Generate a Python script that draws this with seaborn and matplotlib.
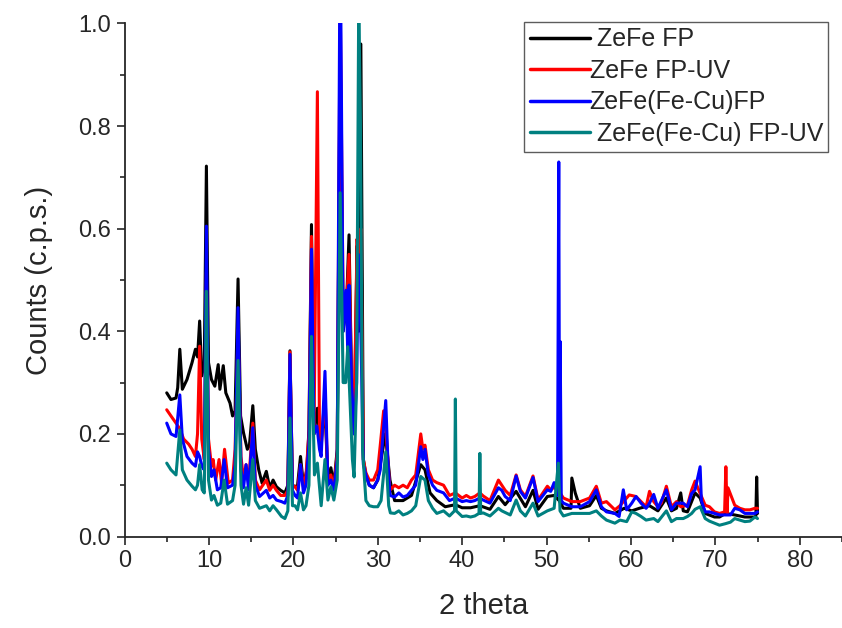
import matplotlib
matplotlib.use("Agg")
import matplotlib.pyplot as plt
import seaborn as sns
import pandas as pd
from matplotlib.ticker import MultipleLocator

# ---------------- data ----------------
labels = [" ZeFe FP", "ZeFe FP-UV", "ZeFe(Fe-Cu)FP", " ZeFe(Fe-Cu) FP-UV"]
colors = ["#000000", "#ff0000", "#0000ff", "#008080"]

black_x = [5.0, 5.5, 6.1, 6.3, 6.55, 6.85, 7.4, 8.0, 8.4, 8.65, 8.9, 9.15, 9.45, 9.7, 9.95,
           10.3, 10.7, 11.1, 11.3, 11.7, 12.0, 12.5, 12.8, 13.1, 13.45, 13.75, 14.1, 14.55,
           14.8, 15.2, 15.5, 15.9, 16.3, 16.8, 17.2, 17.6, 18.0, 18.5, 19.0, 19.35, 19.6, 19.9,
           20.2, 20.5, 20.85, 21.2, 21.6, 21.85, 22.15, 22.45, 22.85, 23.2, 23.75, 24.1, 24.45,
           24.8, 25.2, 25.55, 25.9, 26.3, 26.6, 26.9, 27.2, 27.55, 27.75, 28.0, 28.3, 28.6,
           29.0, 29.5, 30.0, 30.4, 30.9, 31.45, 32.0, 33.0, 34.0, 35.1, 35.6, 36.2, 37.0, 38.0,
           39.2, 40.0, 41.0, 42.1, 43.3, 44.3, 45.1, 46.4, 47.5, 48.4, 49.0, 50.1, 50.9, 51.5,
           52.0, 52.9, 53.0, 53.4, 54.0, 55.1, 55.9, 56.5, 57.1, 58.1, 59.2, 60.1, 61.0, 62.2,
           63.2, 64.2, 64.8, 65.4, 65.9, 66.2, 66.7, 67.6, 68.2, 68.8, 69.9, 70.5, 71.2, 72.3,
           73.5, 74.5, 74.8, 74.9, 75.0]
black_y = [0.28, 0.267, 0.27, 0.29, 0.365, 0.287, 0.306, 0.339, 0.365, 0.35, 0.42, 0.313, 0.339,
           0.722, 0.339, 0.306, 0.293, 0.335, 0.287, 0.333, 0.28, 0.26, 0.235, 0.245, 0.502,
           0.235, 0.202, 0.17, 0.178, 0.255, 0.17, 0.13, 0.104, 0.127, 0.095, 0.11, 0.097, 0.09,
           0.085, 0.1, 0.362, 0.1, 0.097, 0.1, 0.156, 0.1, 0.13, 0.208, 0.608, 0.2, 0.25, 0.175,
           0.25, 0.11, 0.134, 0.1, 0.17, 0.95, 0.4, 0.45, 0.588, 0.3, 0.2, 0.567, 0.4, 0.96,
           0.15, 0.12, 0.1, 0.095, 0.11, 0.15, 0.2, 0.11, 0.07, 0.07, 0.08, 0.14, 0.13, 0.085,
           0.07, 0.058, 0.062, 0.056, 0.056, 0.06, 0.053, 0.078, 0.062, 0.088, 0.058, 0.09, 0.053,
           0.078, 0.08, 0.07, 0.055, 0.055, 0.114, 0.085, 0.055, 0.06, 0.08, 0.055, 0.05, 0.045,
           0.055, 0.05, 0.055, 0.06, 0.05, 0.075, 0.05, 0.055, 0.085, 0.05, 0.048, 0.085, 0.075,
           0.045, 0.038, 0.038, 0.045, 0.042, 0.038, 0.038, 0.038, 0.116, 0.045]

red_x = [5.0, 5.5, 6.1, 6.55, 7.0, 7.6, 8.0, 8.4, 8.65, 8.9, 9.15, 9.45, 9.7, 9.95, 10.3, 10.5,
         10.8, 11.2, 11.5, 11.85, 12.3, 12.8, 13.1, 13.45, 13.8, 14.1, 14.4, 14.7, 15.2, 15.5,
         16.0, 16.8, 17.2, 17.6, 18.0, 18.5, 19.0, 19.35, 19.6, 19.9, 20.2, 20.5, 20.85, 21.2,
         21.5, 21.85, 22.15, 22.45, 22.85, 23.1, 23.3, 23.75, 24.1, 24.45, 24.8, 25.2, 25.55,
         25.9, 26.3, 26.6, 26.9, 27.2, 27.55, 27.75, 28.0, 28.3, 28.6, 29.0, 29.5, 30.0, 30.3,
         30.7, 31.0, 31.45, 32.0, 32.5, 33.0, 33.5, 34.0, 34.5, 35.1, 35.35, 35.6, 36.0, 36.5,
         37.0, 37.8, 38.5, 39.2, 40.0, 40.5, 41.0, 41.5, 42.1, 42.5, 43.3, 44.3, 44.7, 45.1,
         45.7, 46.4, 46.9, 47.5, 48.4, 49.0, 50.1, 50.5, 50.9, 51.4, 52.0, 53.0, 54.0, 55.1,
         55.9, 56.5, 57.1, 58.1, 58.7, 59.8, 60.6, 61.2, 61.8, 62.2, 62.7, 63.2, 63.6, 64.2,
         64.8, 65.4, 65.9, 66.7, 67.2, 67.6, 68.2, 68.8, 69.3, 69.9, 70.5, 71.1, 71.25, 71.4,
         71.5, 72.3, 72.9, 73.5, 74.1, 74.7, 75.0]
red_y = [0.247, 0.235, 0.221, 0.21, 0.19, 0.18, 0.17, 0.156, 0.2, 0.371, 0.19, 0.15, 0.515,
         0.19, 0.137, 0.15, 0.11, 0.15, 0.104, 0.17, 0.104, 0.11, 0.17, 0.403, 0.156, 0.11,
         0.14, 0.104, 0.221, 0.11, 0.091, 0.11, 0.09, 0.1, 0.09, 0.08, 0.08, 0.09, 0.36, 0.1,
         0.097, 0.09, 0.14, 0.097, 0.12, 0.2, 0.585, 0.2, 0.867, 0.2, 0.175, 0.28, 0.11, 0.12,
         0.095, 0.163, 1.05, 0.45, 0.45, 0.55, 0.3, 0.21, 0.58, 0.5, 0.6, 0.15, 0.124, 0.11,
         0.11, 0.13, 0.178, 0.245, 0.2, 0.09, 0.1, 0.095, 0.1, 0.095, 0.11, 0.12, 0.2, 0.17,
         0.178, 0.13, 0.11, 0.105, 0.1, 0.08, 0.085, 0.075, 0.08, 0.075, 0.078, 0.085, 0.079,
         0.07, 0.11, 0.1, 0.09, 0.08, 0.12, 0.091, 0.078, 0.118, 0.071, 0.098, 0.091, 0.096,
         0.09, 0.075, 0.068, 0.068, 0.075, 0.098, 0.065, 0.068, 0.052, 0.06, 0.081, 0.078,
         0.068, 0.058, 0.088, 0.068, 0.058, 0.065, 0.098, 0.058, 0.068, 0.058, 0.061, 0.091,
         0.108, 0.084, 0.061, 0.058, 0.048, 0.045, 0.048, 0.136, 0.045, 0.095, 0.061, 0.055,
         0.052, 0.052, 0.055, 0.055]

blue_x = [5.0, 5.5, 6.1, 6.55, 6.85, 7.4, 8.0, 8.4, 8.65, 8.9, 9.15, 9.45, 9.7, 9.95, 10.3,
          10.6, 11.0, 11.4, 11.8, 12.2, 12.8, 13.1, 13.45, 13.8, 14.1, 14.4, 14.7, 15.2, 15.5,
          16.0, 16.8, 17.2, 17.6, 18.0, 18.6, 19.0, 19.35, 19.6, 19.9, 20.2, 20.5, 20.85, 21.2,
          21.5, 21.85, 22.15, 22.45, 22.8, 23.1, 23.3, 23.75, 24.1, 24.45, 24.8, 25.2, 25.55,
          25.9, 26.25, 26.45, 26.6, 26.9, 27.2, 27.5, 27.7, 28.0, 28.3, 28.6, 29.0, 29.5, 30.0,
          30.3, 30.95, 31.2, 31.45, 32.0, 32.5, 33.0, 33.5, 34.0, 34.5, 35.1, 35.35, 35.6, 36.0,
          36.5, 37.0, 37.8, 38.5, 39.2, 40.0, 40.5, 41.0, 41.5, 42.1, 42.5, 43.3, 44.3, 44.7,
          45.1, 45.7, 46.4, 46.9, 47.5, 48.4, 49.0, 50.1, 50.5, 50.9, 51.3, 51.45, 51.55, 51.62,
          51.75, 52.0, 53.0, 54.0, 55.1, 55.9, 56.5, 57.1, 58.1, 58.6, 59.1, 59.5, 60.1, 60.6,
          61.2, 61.8, 62.2, 62.7, 63.2, 64.2, 64.8, 65.4, 66.2, 66.7, 67.2, 67.6, 68.2, 68.35,
          68.8, 69.3, 69.9, 70.5, 71.8, 72.3, 72.9, 73.5, 74.1, 74.7, 75.0]
blue_y = [0.221, 0.2, 0.195, 0.276, 0.19, 0.156, 0.143, 0.137, 0.165, 0.156, 0.137, 0.13, 0.605,
          0.17, 0.117, 0.13, 0.091, 0.095, 0.15, 0.095, 0.1, 0.14, 0.446, 0.13, 0.095, 0.14,
          0.091, 0.212, 0.1, 0.078, 0.09, 0.075, 0.08, 0.071, 0.068, 0.065, 0.08, 0.355, 0.09,
          0.08, 0.075, 0.14, 0.085, 0.1, 0.18, 0.56, 0.2, 0.215, 0.17, 0.156, 0.322, 0.1, 0.11,
          0.09, 0.15, 1.2, 0.4, 0.48, 0.36, 0.49, 0.3, 0.2, 0.3, 0.55, 0.4, 0.14, 0.12, 0.1,
          0.095, 0.11, 0.13, 0.265, 0.15, 0.08, 0.077, 0.085, 0.077, 0.08, 0.09, 0.1, 0.175,
          0.15, 0.17, 0.12, 0.1, 0.09, 0.085, 0.07, 0.075, 0.068, 0.07, 0.068, 0.07, 0.075,
          0.071, 0.065, 0.095, 0.09, 0.078, 0.07, 0.118, 0.088, 0.075, 0.115, 0.068, 0.091,
          0.088, 0.105, 0.08, 0.73, 0.08, 0.38, 0.07, 0.065, 0.058, 0.058, 0.068, 0.091, 0.058,
          0.048, 0.045, 0.039, 0.091, 0.052, 0.065, 0.078, 0.065, 0.055, 0.065, 0.082, 0.055,
          0.091, 0.052, 0.065, 0.065, 0.058, 0.084, 0.091, 0.136, 0.07, 0.048, 0.048, 0.045,
          0.042, 0.042, 0.055, 0.052, 0.045, 0.045, 0.045, 0.048]

teal_x = [5.0, 5.5, 6.1, 6.55, 6.85, 7.4, 8.0, 8.4, 8.65, 8.9, 9.2, 9.45, 9.7, 9.95, 10.3, 10.6,
          11.0, 11.4, 11.8, 12.2, 12.8, 13.1, 13.45, 13.8, 14.1, 14.4, 14.7, 15.2, 15.5, 16.0,
          16.8, 17.2, 17.6, 18.0, 18.6, 19.0, 19.35, 19.6, 19.9, 20.2, 20.5, 20.85, 21.2, 21.5,
          21.85, 22.15, 22.5, 22.85, 23.1, 23.3, 23.75, 24.1, 24.45, 24.8, 25.2, 25.55, 25.9,
          26.2, 26.45, 26.7, 27.0, 27.2, 27.5, 27.75, 27.95, 28.2, 28.4, 28.6, 29.0, 29.5, 30.0,
          30.4, 30.95, 31.3, 31.5, 32.0, 32.5, 33.0, 33.5, 34.0, 34.5, 35.1, 35.6, 36.0, 36.5,
          37.0, 37.8, 38.5, 39.1, 39.2, 39.3, 40.0, 40.5, 41.0, 41.5, 42.0, 42.1, 42.2, 42.5,
          43.3, 44.3, 44.7, 45.7, 46.4, 46.9, 47.5, 48.4, 49.0, 50.1, 50.9, 51.4, 51.6, 52.0,
          53.0, 54.0, 55.1, 55.9, 56.5, 57.1, 58.1, 58.7, 59.5, 60.1, 60.6, 61.2, 61.8, 62.7,
          63.2, 64.2, 64.8, 65.4, 66.2, 66.7, 67.2, 67.6, 68.2, 68.8, 69.3, 69.9, 70.5, 71.2,
          71.8, 72.3, 72.9, 73.5, 74.1, 74.7, 75.0]
teal_y = [0.143, 0.13, 0.12, 0.208, 0.13, 0.11, 0.098, 0.091, 0.1, 0.14, 0.091, 0.085, 0.478,
          0.11, 0.071, 0.08, 0.061, 0.065, 0.11, 0.063, 0.07, 0.1, 0.343, 0.1, 0.063, 0.095,
          0.061, 0.15, 0.07, 0.055, 0.06, 0.05, 0.06, 0.052, 0.039, 0.035, 0.05, 0.231, 0.06,
          0.06, 0.052, 0.085, 0.052, 0.06, 0.1, 0.39, 0.12, 0.143, 0.097, 0.06, 0.15, 0.071,
          0.097, 0.071, 0.11, 0.67, 0.3, 0.3, 0.37, 0.27, 0.15, 0.116, 0.3, 1.05, 0.81, 0.17,
          0.12, 0.07, 0.06, 0.058, 0.058, 0.07, 0.165, 0.06, 0.046, 0.045, 0.05, 0.042, 0.045,
          0.05, 0.06, 0.117, 0.11, 0.07, 0.055, 0.045, 0.05, 0.04, 0.05, 0.268, 0.05, 0.039,
          0.04, 0.038, 0.04, 0.045, 0.162, 0.045, 0.046, 0.04, 0.055, 0.05, 0.042, 0.071, 0.05,
          0.04, 0.065, 0.04, 0.05, 0.055, 0.143, 0.05, 0.04, 0.045, 0.045, 0.045, 0.05, 0.04,
          0.032, 0.026, 0.032, 0.029, 0.048, 0.045, 0.039, 0.032, 0.035, 0.029, 0.05, 0.029,
          0.035, 0.035, 0.039, 0.045, 0.053, 0.058, 0.035, 0.03, 0.026, 0.022, 0.025, 0.028,
          0.035, 0.032, 0.029, 0.03, 0.038, 0.035]

x_ticks = [0, 10, 20, 30, 40, 50, 60, 70, 80]
y_ticks = [0.0, 0.2, 0.4, 0.6, 0.8, 1.0]

# ---------------- plotting ----------------
sns.set_style("ticks")
plt.rcParams["font.family"] = ["Liberation Sans", "DejaVu Sans"]

fig = plt.figure(figsize=(8.42, 6.28), dpi=100)
ax = fig.add_axes([0.1479, 0.1457, 0.852, 0.8169])

series = [(black_x, black_y), (red_x, red_y), (blue_x, blue_y), (teal_x, teal_y)]
for (xs, ys), lab, col in zip(series, labels, colors):
    df = pd.DataFrame({"x": xs, "y": ys})
    sns.lineplot(data=df, x="x", y="y", ax=ax, color=col, lw=2.2, label=lab,
                 estimator=None, sort=False)

ax.set_xlim(0, 85)
ax.set_ylim(0, 1.0)
ax.set_xticks(x_ticks)
ax.set_yticks(y_ticks)
ax.set_xticklabels([str(v) for v in x_ticks])
ax.set_yticklabels([f"{v:.1f}" for v in y_ticks])
ax.xaxis.set_minor_locator(MultipleLocator(5))
ax.yaxis.set_minor_locator(MultipleLocator(0.1))
ax.tick_params(which="major", direction="out", length=6, width=1.2, labelsize=17, pad=4)
ax.tick_params(which="minor", direction="out", length=3.5, width=1.2)
for s in ["top", "right"]:
    ax.spines[s].set_visible(False)
for s in ["left", "bottom"]:
    ax.spines[s].set_linewidth(1.3)

ax.set_xlabel("2 theta", fontsize=21, labelpad=14)
ax.set_ylabel("Counts (c.p.s.)", fontsize=21, labelpad=18)

leg = ax.legend(loc="upper left", bbox_to_anchor=(524 / 842, 1 - 22 / 628),
                bbox_transform=fig.transFigure, fontsize=18, frameon=True, fancybox=False,
                handlelength=2.4, handletextpad=0.0, labelspacing=0.3, borderpad=0.22,
                borderaxespad=0.0)
leg.get_frame().set_edgecolor("#333333")
leg.get_frame().set_linewidth(1.0)
for h in leg.get_lines():
    h.set_linewidth(2.5)

fig.savefig("out.png", dpi=100)
